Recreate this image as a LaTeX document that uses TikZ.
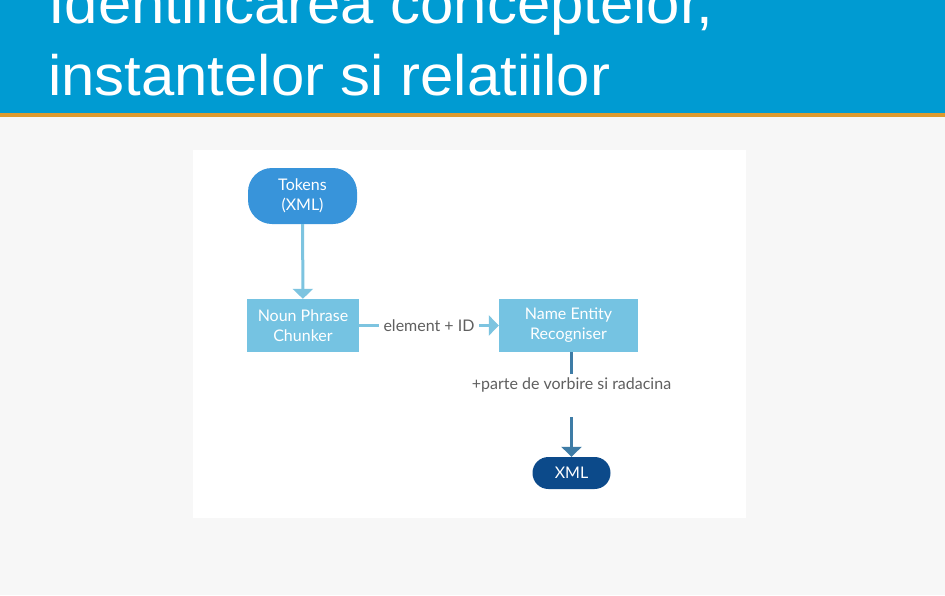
\documentclass[tikz,border=0pt]{standalone}
\usepackage{fontspec}
\setmainfont{Liberation Sans}
\newfontfamily\titlefont[FakeStretch=1.05]{Liberation Sans}
\newfontfamily\latofont{Lato}
\usetikzlibrary{arrows.meta,positioning}
\definecolor{headblue}{RGB}{0,155,210}
\definecolor{headline}{RGB}{222,154,46}
\definecolor{pagegray}{RGB}{247,247,247}
\definecolor{tokenblue}{RGB}{56,148,218}
\definecolor{boxblue}{RGB}{117,195,226}
\definecolor{linkblue}{RGB}{125,196,224}
\definecolor{steelblue}{RGB}{62,124,166}
\definecolor{navyblue}{RGB}{12,74,138}
\definecolor{labelgray}{RGB}{95,95,95}
\begin{document}
\begin{tikzpicture}[x=1pt, y=-1pt, >={Triangle[width=20pt,length=10pt]},
  titletext/.style={anchor=base west, text=white, inner sep=0pt, font=\titlefont\fontsize{57}{68}\selectfont},
  flowbox/.style={fill=boxblue, text=white, align=center, minimum height=53pt, inner sep=0pt, font=\latofont\fontsize{16}{20}\selectfont},
  startbox/.style={flowbox, fill=tokenblue, rounded corners=24pt, minimum width=109pt, minimum height=56pt},
  endbox/.style={flowbox, fill=navyblue, rounded corners=15.9pt, minimum width=78pt, minimum height=32pt},
  edgelabel/.style={fill=white, text=labelgray, inner xsep=5pt, inner ysep=4pt, font=\latofont\fontsize{16}{20}\selectfont},
  link/.style={line width=3pt, linkblue}]
  \useasboundingbox (0,0) rectangle (945,595);
  \clip (0,0) rectangle (945,595);
  \fill[pagegray] (0,0) rectangle (945,595);
  \fill[headblue] (0,0) rectangle (945,113);
  \fill[headline] (0,113) rectangle (945,117);
  \fill[white] (193,150) rectangle (746,518);
  \node[titletext] (titleone) at (48,23) {Identificarea conceptelor,};
  \node[titletext] (titletwo) at (48,95) {instantelor si relatiilor};
  \node[startbox] (tokens) at (302.5,196) {Tokens\\(XML)};
  \node[flowbox, minimum width=112pt] (chunker) at (303,325.5) {Noun Phrase\\Chunker};
  \node[flowbox, minimum width=139pt] (recogniser) at (568.5,325.5) {Name Entity\\Recogniser};
  \node[endbox] (xml) at (571.5,473) {XML};
  \node[edgelabel] (posinfo) at (571.5,385) {+parte de vorbire si radacina};
  \coordinate (posfoot) at (571.5,417);
  \draw[link, ->] (tokens) -- (chunker);
  \draw[link, ->] (chunker) -- node[edgelabel] {element + ID} (recogniser);
  \draw[link, steelblue] (recogniser.south -| posinfo) -- (posinfo);
  \draw[link, steelblue, ->] (posfoot) -- (xml);
\end{tikzpicture}
\end{document}
